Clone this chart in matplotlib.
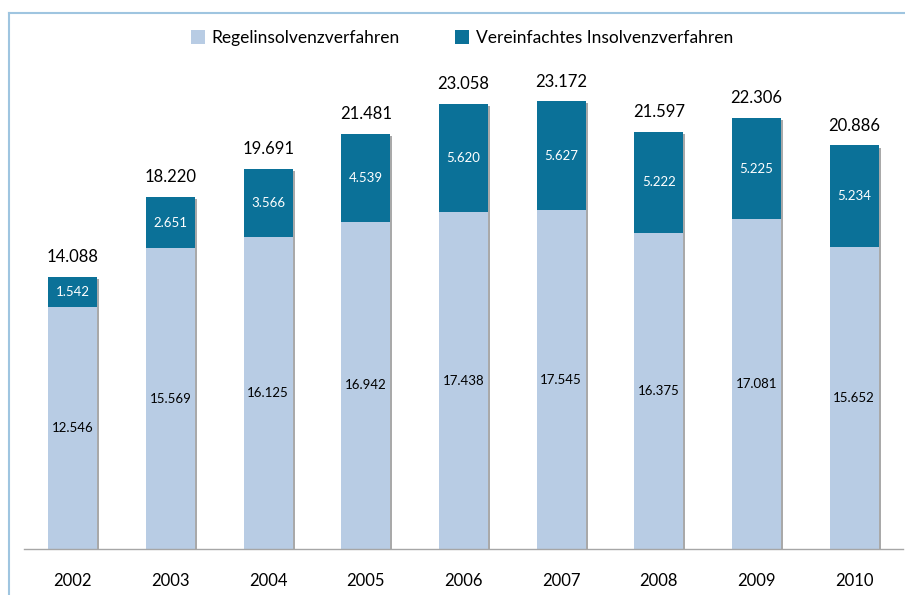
import matplotlib
matplotlib.use("Agg")
import matplotlib.pyplot as plt
from matplotlib.lines import Line2D
from matplotlib.patches import Patch
import matplotlib.patheffects as pe

years = ["2002", "2003", "2004", "2005", "2006", "2007", "2008", "2009", "2010"]
regel = [12546, 15569, 16125, 16942, 17438, 17545, 16375, 17081, 15652]
vereinfacht = [1542, 2651, 3566, 4539, 5620, 5627, 5222, 5225, 5234]
totals = [14088, 18220, 19691, 21481, 23058, 23172, 21597, 22306, 20886]

def fmt(v):
    return f"{v:,}".replace(",", ".")

light = "#b8cce4"
dark = "#0b7198"
plt.rcParams['font.family'] = ['Lato', 'DejaVu Sans']

fig = plt.figure(figsize=(9.05, 5.95), dpi=100)
ax = fig.add_axes([24/905, 46/595, 879/905, 483/595])
x = list(range(len(years)))
shadow = [pe.SimplePatchShadow(offset=(1.5, -1.5), shadow_rgbFace="#555555", alpha=0.5), pe.Normal()]
b1 = ax.bar(x, regel, width=0.5, color=light, zorder=2.1)
b2 = ax.bar(x, vereinfacht, width=0.5, bottom=regel, color=dark, zorder=2)
for b in list(b1) + list(b2):
    b.set_path_effects(shadow)

for i in x:
    ax.text(i, regel[i] / 2, fmt(regel[i]), ha="center", va="center", fontsize=9.5, color="black", zorder=3)
    ax.text(i, regel[i] + vereinfacht[i] / 2, fmt(vereinfacht[i]), ha="center", va="center", fontsize=9.5, color="white", zorder=3)
    ax.text(i, totals[i] + 600, fmt(totals[i]), ha="center", va="bottom", fontsize=12, color="black", zorder=3)

ax.set_xlim(-0.5, 8.5)
ax.set_ylim(0, 25000)
ax.set_yticks([])
ax.set_xticks(x)
ax.set_xticklabels(years, fontsize=12)
ax.tick_params(axis="x", length=0, pad=17)
for s in ["top", "right", "left"]:
    ax.spines[s].set_visible(False)
ax.spines["bottom"].set_color("#a6a6a6")
ax.spines["bottom"].set_linewidth(1)

handles = [Patch(facecolor=light, label="Regelinsolvenzverfahren"),
           Patch(facecolor=dark, label="Vereinfachtes Insolvenzverfahren")]
fig.legend(handles=handles, loc="center", bbox_to_anchor=(462/905, 1 - 38/595), ncol=2,
           frameon=False, fontsize=12.5, handlelength=0.8, handleheight=0.8,
           handletextpad=0.4, columnspacing=3.2)

fig.add_artist(Line2D([9/905, 1.0], [1 - 12.5/595, 1 - 12.5/595], transform=fig.transFigure, color="#9fc5e0", lw=1.5))
fig.add_artist(Line2D([9/905, 9/905], [0, 1 - 12.5/595], transform=fig.transFigure, color="#9fc5e0", lw=1.5))

fig.savefig("out.png", dpi=100)
